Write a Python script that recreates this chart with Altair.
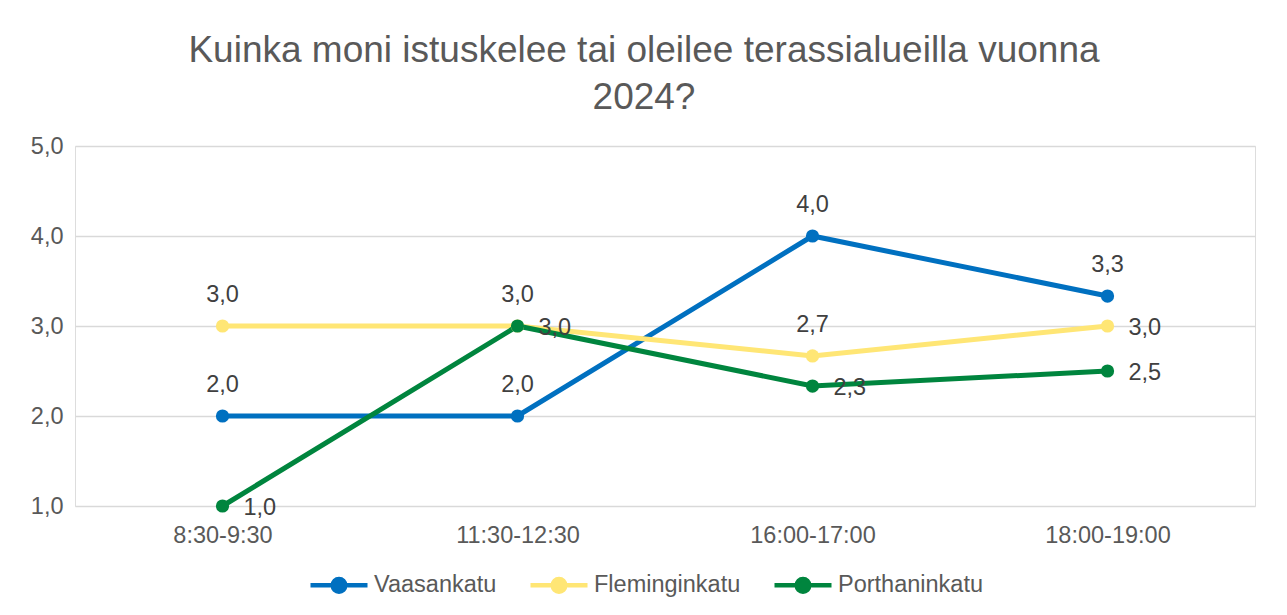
import altair as alt
import pandas as pd

times = ["8:30-9:30", "11:30-12:30", "16:00-17:00", "18:00-19:00"]
series = ["Vaasankatu", "Fleminginkatu", "Porthaninkatu"]
vaasankatu = [2.0, 2.0, 4.0, 3.333]
fleminginkatu = [3.0, 3.0, 2.667, 3.0]
porthaninkatu = [1.0, 3.0, 2.333, 2.5]
colors = ["#0070C0", "#FFE675", "#00853E"]
y_ticks = [1, 2, 3, 4, 5]

rows = []
for name, vals in zip(series, [vaasankatu, fleminginkatu, porthaninkatu]):
    for t, v in zip(times, vals):
        rows.append({"aika": t, "katu": name, "arvo": v,
                     "label": f"{v:.1f}".replace(".", ",")})
df = pd.DataFrame(rows)

FONT = "Liberation Sans"
FS = 23.5

x_enc = alt.X("aika:N", sort=times, title=None,
              scale=alt.Scale(type="point", padding=0.5),
              axis=alt.Axis(labelAngle=0, labelFontSize=FS, labelColor="#595959",
                            labelFont=FONT, ticks=False, domain=False, grid=False,
                            labelPadding=17))
y_enc = alt.Y("arvo:Q", title=None,
              scale=alt.Scale(domain=[1, 5], nice=False, zero=False),
              axis=alt.Axis(values=y_ticks, labelExpr="replace(format(datum.value,'.1f'),'.',',')",
                            labelFontSize=FS, labelColor="#595959", labelFont=FONT,
                            ticks=False, domain=False, gridColor="#D9D9D9", gridWidth=1.3,
                            labelPadding=12))
color_enc = alt.Color("katu:N", sort=series,
                      scale=alt.Scale(domain=series, range=colors),
                      legend=alt.Legend(title=None, orient="none", direction="horizontal",
                                        legendX=233, legendY=408,
                                        symbolType="M -1 0 L 1 0 M -0.22 0 A 0.22 0.22 0 1 0 0.22 0 A 0.22 0.22 0 1 0 -0.22 0",
                                        symbolSize=3249, symbolStrokeWidth=4.5,
                                        labelFontSize=FS, labelColor="#595959", labelFont=FONT,
                                        labelOffset=4, columnPadding=24))

base = alt.Chart(df)

lines = base.mark_line(strokeWidth=5, point=alt.OverlayMarkDef(filled=True, size=175, opacity=1)).encode(
    x=x_enc, y=y_enc, color=color_enc, detail="katu:N")

right_cond = "datum.katu == 'Porthaninkatu' || (datum.katu == 'Fleminginkatu' && datum.aika == '18:00-19:00')"

labels_above = base.transform_filter("!(" + right_cond + ")").mark_text(
    dy=-31, fontSize=FS, font=FONT, color="#404040").encode(
    x=alt.X("aika:N", sort=times), y="arvo:Q", text="label:N")

labels_right = base.transform_filter(right_cond).mark_text(
    dx=21, dy=2, align="left", fontSize=FS, font=FONT, color="#404040").encode(
    x=alt.X("aika:N", sort=times), y="arvo:Q", text="label:N")

chart = alt.layer(lines, labels_above, labels_right).properties(
    width=1180, height=360,
    padding={"left": 67, "top": 138, "right": 24, "bottom": 101},
    autosize=alt.AutoSizeParams(type="none"),
    title=alt.TitleParams(
        ["Kuinka moni istuskelee tai oleilee terassialueilla vuonna", "2024?"],
        fontSize=37, font=FONT, color="#595959", fontWeight="normal",
        anchor="middle", dx=-21, offset=17, lineHeight=47),
).configure_view(stroke=None).configure(background="white")

chart.save("out.html", embed_options={"renderer": "svg", "actions": False})
